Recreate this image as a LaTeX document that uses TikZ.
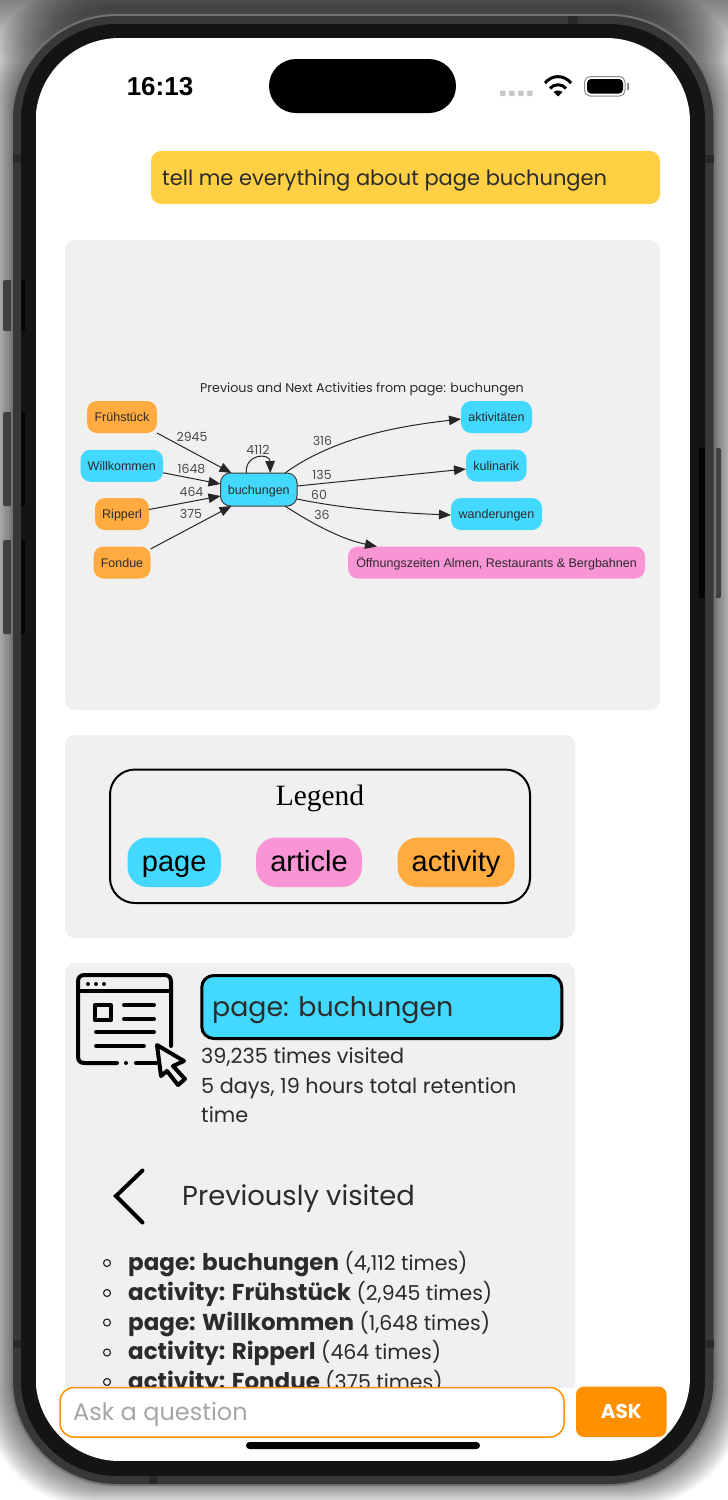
\documentclass[tikz,border=0pt]{standalone}
\usepackage{fontspec}
\usepackage{tikz}
\usetikzlibrary{arrows.meta}
\setmainfont{Poppins}
\newfontfamily\graphfont{Liberation Sans}
\newfontfamily\legendfont{Liberation Serif}
\newcommand{\pxfont}[1]{\fontsize{#1}{#1}\selectfont}
\newcommand{\itemtext}[2]{{\pxfont{23}\bfseries #1} #2}
\definecolor{pagecol}{HTML}{43D9FF}
\definecolor{articlecol}{HTML}{F994D5}
\definecolor{activitycol}{HTML}{FFAB40}
\definecolor{panelcol}{HTML}{F0F0F0}
\definecolor{bubblecol}{HTML}{FFD043}
\definecolor{askcol}{HTML}{FF9000}
\definecolor{inkcol}{HTML}{2B2B2B}
\tikzset{
	panel/.style={fill=panelcol,rounded corners=10pt},
	graphnode/.style={rounded corners=10pt,inner sep=0pt,outer sep=0pt,minimum height=32pt,text=inkcol,
		text height=10.5pt,text depth=1.1pt,font=\graphfont\pxfont{12.5}},
	legendnode/.style={rounded corners=20pt,inner sep=0pt,outer sep=0pt,minimum height=49.5pt,text=black,
		text height=24pt,text depth=6.4pt,font=\graphfont\pxfont{29}},
	edge/.style={line width=1pt,draw=black!85,->,>={Triangle[length=12pt,width=9.5pt]}},
	count/.style={anchor=base,text=inkcol!85,font=\pxfont{12.5}},
	body/.style={anchor=base west,inner sep=0pt,text=inkcol,font=\pxfont{20.8}},
	iconline/.style={line width=4pt,line cap=round,line join=round,draw=black},
	bullet/.style={circle,draw=inkcol,line width=1.2pt,minimum size=7pt,inner sep=0pt}
}
\begin{document}
\begin{tikzpicture}[x=1pt,y=-1pt]
	\useasboundingbox (0,0) rectangle (728,1500);
	\fill[white] (0,0) rectangle (728,1500);
	\foreach \d in {2,4,...,60}
		\fill[black,opacity=0.019] (0,0) rectangle (728,\d);
	\foreach \d in {0,1,...,26}
		\fill[black,opacity=0.024,rounded corners=106pt] (11-\d,8-\d) rectangle (716+\d,1480+\d);

	\fill[black!75,rounded corners=1.5pt] (3,280) rectangle (13,331);
	\fill[black!75,rounded corners=1.5pt] (3,412) rectangle (13,506);
	\fill[black!75,rounded corners=1.5pt] (3,540) rectangle (13,634);
	\fill[black!75,rounded corners=1.5pt] (713,448) rectangle (721,598);
	\fill[black!55,rounded corners=106pt] (11,14) rectangle (716,1486);
	\fill[black!78,rounded corners=104pt] (13,16) rectangle (713.5,1484);
	\fill[black!92,rounded corners=96pt] (21,24) rectangle (705,1476);
	\fill[black!84] (568,16) rectangle (578,24);
	\fill[black!84] (149,1476) rectangle (157,1484);
	\foreach \y in {155,1340} {
		\fill[black!84] (13,\y) rectangle (21,\y+8);
		\fill[black!84] (705,\y) rectangle (713.5,\y+8);
	}
	\fill[black!98] (21,280) rectangle (25,331);
	\fill[black!98] (21,412) rectangle (25,506);
	\fill[black!98] (21,540) rectangle (25,634);
	\fill[black!98] (699,448) rectangle (705,598);

	\begin{scope}
		\clip[rounded corners=84pt] (35.5,38) rectangle (690,1461);
		\fill[white] (35.5,38) rectangle (690,1461);

		\fill[bubblecol,rounded corners=10pt] (151,151) rectangle (660,204);
		\node[body,font=\pxfont{21}] (question) at (162,185) {tell me everything about page buchungen};

		\fill[panel] (65,240) rectangle (660,710);
		\node[anchor=base,text=inkcol,font=\pxfont{12.7}] (graphtitle) at (362,392.5) {Previous and Next Activities from page: buchungen};

		\node[graphnode,fill=activitycol,minimum width=70pt] (fruehstueck) at (122,417) {Frühstück};
		\node[graphnode,fill=pagecol,minimum width=82.5pt] (willkommen) at (121.75,465.75) {Willkommen};
		\node[graphnode,fill=activitycol,minimum width=54pt] (ripperl) at (122,514) {Ripperl};
		\node[graphnode,fill=activitycol,minimum width=57pt] (fondue) at (122,562.5) {Fondue};
		\node[graphnode,fill=pagecol,draw=inkcol!90,line width=1pt,minimum width=76.5pt,minimum height=33pt] (buchungen) at (258.75,489.5) {buchungen};
		\node[graphnode,fill=pagecol,minimum width=71pt] (aktivitaeten) at (496.5,417) {aktivitäten};
		\node[graphnode,fill=pagecol,minimum width=60.5pt] (kulinarik) at (496.25,465.5) {kulinarik};
		\node[graphnode,fill=pagecol,minimum width=91pt] (wanderungen) at (496.5,514) {wanderungen};
		\node[graphnode,fill=articlecol,minimum width=297pt] (oeffnung) at (496.5,562.5) {Öffnungszeiten Almen, Restaurants \& Bergbahnen};

		\draw[edge] (fruehstueck.south east) -- ([xshift=11pt]buchungen.north west);
		\draw[edge] ([yshift=-7pt]willkommen.east) -- ([yshift=5.5pt]buchungen.west);
		\draw[edge] ([yshift=4.5pt]ripperl.east) -- ([yshift=-6.5pt]buchungen.west);
		\draw[edge] ([yshift=-2.5pt]fondue.north east) -- ([xshift=11pt]buchungen.south west);
		\draw[edge] ([xshift=-12.5pt]buchungen.north) .. controls (245,453) and (270,453) .. ([xshift=11.5pt]buchungen.north);
		\draw[edge] ([xshift=-12pt]buchungen.north east) .. controls (335,437) and (400,426) .. ([yshift=-2pt]aktivitaeten.west);
		\draw[edge] ([yshift=3.5pt]buchungen.east) -- ([yshift=-3.5pt]kulinarik.west);
		\draw[edge] ([yshift=-9.5pt]buchungen.east) .. controls (345,509) and (400,513) .. ([yshift=-1pt]wanderungen.west);
		\draw[edge] ([xshift=-12pt]buchungen.south east) .. controls (325,532) and (350,541) .. ([xshift=29pt]oeffnung.north west);

		\node[count] (countA) at (192,441.5) {2945};
		\node[count] (countB) at (191.5,473) {1648};
		\node[count] (countC) at (191.5,496.5) {464};
		\node[count] (countD) at (191,518.5) {375};
		\node[count] (countE) at (258,454) {4112};
		\node[count] (countF) at (322.5,445.5) {316};
		\node[count] (countG) at (322,479.5) {135};
		\node[count] (countH) at (319,499.5) {60};
		\node[count] (countI) at (322,519.5) {36};

		\fill[panel] (65,735) rectangle (575,938);
		\draw[line width=2pt,rounded corners=25pt] (110,769.5) rectangle (530,903);
		\node[anchor=base,text=black,font=\legendfont\pxfont{29.5}] (legendtitle) at (320,805) {Legend};
		\node[legendnode,fill=pagecol,minimum width=93.5pt] (legendpage) at (174.25,862.25) {page};
		\node[legendnode,fill=articlecol,minimum width=106pt] (legendarticle) at (309,862.25) {article};
		\node[legendnode,fill=activitycol,minimum width=117pt] (legendactivity) at (456,862.25) {activity};

		\begin{scope}
			\clip (0,0) rectangle (728,1387);
			\fill[panel] (65,963) rectangle (575,1420);

			\draw[iconline] (117,1063) -- (85,1063) .. controls (80,1063) and (78,1061) .. (78,1056) -- (78,982) .. controls (78,977) and (80,975) .. (85,975) -- (164,975) .. controls (169,975) and (171,977) .. (171,982) -- (171,1046);
			\draw[iconline] (136,1063) -- (156,1063);
			\fill[black] (126,1063) circle (2pt);
			\draw[iconline] (78,991) -- (171,991);
			\foreach \x in {88,96,104}
				\fill[black] (\x,984) circle (2pt);
			\draw[iconline,line cap=butt] (95,1005) rectangle (111,1020);
			\draw[iconline] (124,1005) -- (154,1005);
			\draw[iconline] (124,1019) -- (154,1019);
			\draw[iconline] (96,1032) -- (154,1032);
			\draw[iconline] (96,1046) -- (144,1046);
			\draw[iconline,fill=panelcol] (157,1045) -- (184,1061) -- (173,1066) -- (185,1079) -- (178,1085) -- (167,1071) -- (161,1076) -- cycle;

			\node[rectangle,rounded corners=12pt,draw=black,line width=3pt,fill=pagecol,minimum width=360pt,minimum height=63pt,inner sep=0pt] (pagebox) at (381.75,1007) {};
			\node[body,font=\pxfont{26.8}] (pagetitle) at (212,1016) {page: buchungen};
			\node[body] (visited) at (201,1063) {39,235 times visited};
			\node[body] (retentionA) at (201,1093) {5 days, 19 hours total retention};
			\node[body] (retentionB) at (201,1122) {time};

			\draw[line width=4pt,line cap=round,line join=miter] (142.5,1170.5) -- (116,1196) -- (142.5,1222.5);
			\node[body,font=\pxfont{27.4}] (previous) at (182,1205) {Previously visited};

			\node[bullet] (bulletA) at (107,1263) {};
			\node[bullet] (bulletB) at (107,1293) {};
			\node[bullet] (bulletC) at (107,1322.5) {};
			\node[bullet] (bulletD) at (107,1352.5) {};
			\node[bullet] (bulletE) at (107,1382) {};
			\node[body,font=\pxfont{20.5}] (itemA) at (128,1270.5) {\itemtext{page: buchungen}{(4,112 times)}};
			\node[body,font=\pxfont{20.5}] (itemB) at (128,1300) {\itemtext{activity: Frühstück}{(2,945 times)}};
			\node[body,font=\pxfont{20.5}] (itemC) at (128,1330) {\itemtext{page: Willkommen}{(1,648 times)}};
			\node[body,font=\pxfont{20.5}] (itemD) at (128,1359.5) {\itemtext{activity: Ripperl}{(464 times)}};
			\node[body,font=\pxfont{20.5}] (itemE) at (128,1389) {\itemtext{activity: Fondue}{(375 times)}};
		\end{scope}

		\draw[draw=askcol,line width=1.5pt,fill=white,rounded corners=14pt] (60,1387.5) rectangle (564,1437);
		\node[body,text=black!35,font=\pxfont{24}] (placeholder) at (73,1420.5) {Ask a question};
		\node[rectangle,rounded corners=8pt,fill=askcol,text=white,inner sep=0pt,minimum width=90.5pt,minimum height=50.5pt,font=\pxfont{20}\bfseries] (ask) at (621.25,1411.75) {ASK};
		\fill[black,rounded corners=3.5pt] (246,1442) rectangle (480,1449);

		\node[anchor=base,text=black,font=\graphfont\pxfont{26}\bfseries] (clock) at (160,95) {16:13};
		\fill[black,rounded corners=27pt] (269,59) rectangle (456,113);
		\foreach \x in {500,509,518,527}
			\fill[black!22,rounded corners=1pt] (\x,90.5) rectangle (\x+5.5,96);
		\draw[line width=3pt] (545,83) .. controls (552,74.5) and (564,74.5) .. (571,83);
		\draw[line width=3pt] (550,88.5) .. controls (554,83.5) and (562,83.5) .. (566,88.5);
		\fill[black] (553.5,92) .. controls (556,90) and (560,90) .. (562.5,92) -- (558,96.5) -- cycle;
		\draw[black!45,line width=1pt,rounded corners=5.5pt] (584.5,76.5) rectangle (625,96);
		\fill[black,rounded corners=4pt] (587,79) rectangle (623,93.5);
		\fill[black!45] (627,83) rectangle (629,89.5);
	\end{scope}
\end{tikzpicture}
\end{document}
